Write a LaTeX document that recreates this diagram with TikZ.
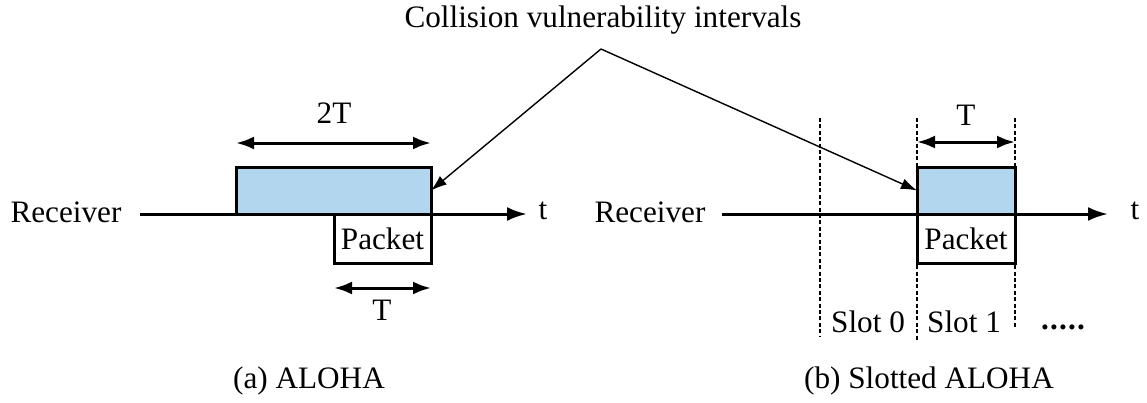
\documentclass[tikz,border=0pt]{standalone}
\usepackage{fontspec}
\setmainfont{Liberation Serif}
\usetikzlibrary{arrows.meta}
\definecolor{vulnblue}{RGB}{178,214,238}
\tikzset{
  lbl/.style={font=\fontsize{15.6}{18}\selectfont, inner sep=0pt},
  timeaxis/.style={line width=1.5pt, -{Latex[length=10pt,width=7pt]}},
  dimarrow/.style={line width=1.5pt, {Latex[length=9pt,width=6.5pt]}-{Latex[length=9pt,width=6.5pt]}},
  pointer/.style={line width=0.7pt, -{Latex[length=8pt,width=5.5pt]}},
  slotline/.style={line width=0.6pt, dash pattern=on 2pt off 1.2pt},
  interval/.style={draw, line width=1.5pt, fill=vulnblue, inner sep=0pt, outer sep=0pt},
  packetbox/.style={draw, line width=1.5pt, fill=white, inner sep=0pt, outer sep=0pt,
    font=\fontsize{15.6}{18}\selectfont}
}
\begin{document}
\begin{tikzpicture}[x=0.5pt,y=-0.5pt]
\useasboundingbox (0,0) rectangle (1147,402);

% ---------- (a) pure ALOHA ----------
\node[lbl] (recA) at (66,212) {Receiver};
\coordinate (axA0) at (140,214);
\coordinate (axA1) at (527,214);
\node[lbl] (tA) at (543,211) {t};

\node[interval, minimum width=97.5pt, minimum height=23.5pt, anchor=south west] (blueA) at (236,214) {};
\draw[timeaxis] (axA0) -- (axA1);
\node[packetbox, minimum width=48.5pt, minimum height=24.5pt, anchor=north west] (pktA) at (334,214) {Packet};
\draw[line width=1.5pt] (blueA.south west) -- (blueA.south east);

\coordinate (dA0) at (236,143);
\coordinate (dA1) at (431,143);
\draw[dimarrow] (dA0) -- (dA1);
\node[lbl] (twoT) at (334,113) {2T};

\coordinate (dB0) at (334,288);
\coordinate (dB1) at (431,288);
\draw[dimarrow] (dB0) -- (dB1);
\node[lbl] (TA) at (382,310) {T};

\node[lbl] (capA) at (309,381) {(a) ALOHA};

% ---------- (b) slotted ALOHA ----------
\node[lbl] (recB) at (650,212) {Receiver};
\coordinate (axB0) at (722,214);
\coordinate (axB1) at (1108,214);
\node[lbl] (tB) at (1135,211) {t};

\coordinate (s0t) at (820,118);
\coordinate (s0b) at (820,337);
\coordinate (s1t) at (917,118);
\coordinate (s1b) at (917,340);
\coordinate (s2t) at (1015,118);
\coordinate (s2b) at (1015,328);
\draw[slotline] (s0t) -- (s0b);
\draw[slotline] (s1t) -- (s1b);
\draw[slotline] (s2t) -- (s2b);

\node[interval, minimum width=49pt, minimum height=23.5pt, anchor=south west] (blueB) at (917,214) {};
\node[packetbox, minimum width=49pt, minimum height=24.5pt, anchor=north west] (pktB) at (917,214) {Packet};
\draw[timeaxis] (axB0) -- (axB1);

\coordinate (dC0) at (917,142);
\coordinate (dC1) at (1015,142);
\draw[dimarrow] (dC0) -- (dC1);
\node[lbl] (TB) at (966,115) {T};

\node[lbl] (slot0) at (868,322) {Slot 0};
\node[lbl] (slot1) at (964,322) {Slot 1};
\node[lbl, anchor=base] (more) at (1063,329) {\textbf{.\kern0.6pt.\kern0.6pt.\kern0.6pt.\kern0.6pt.}};

\node[lbl] (capB) at (929,381) {(b) Slotted ALOHA};

% ---------- annotation ----------
\node[lbl] (cvi) at (603,20) {Collision vulnerability intervals};
\coordinate (apex) at (601,49);
\draw[pointer] (apex) -- (blueA.east);
\draw[pointer] (apex) -- (blueB.west);
\end{tikzpicture}
\end{document}
